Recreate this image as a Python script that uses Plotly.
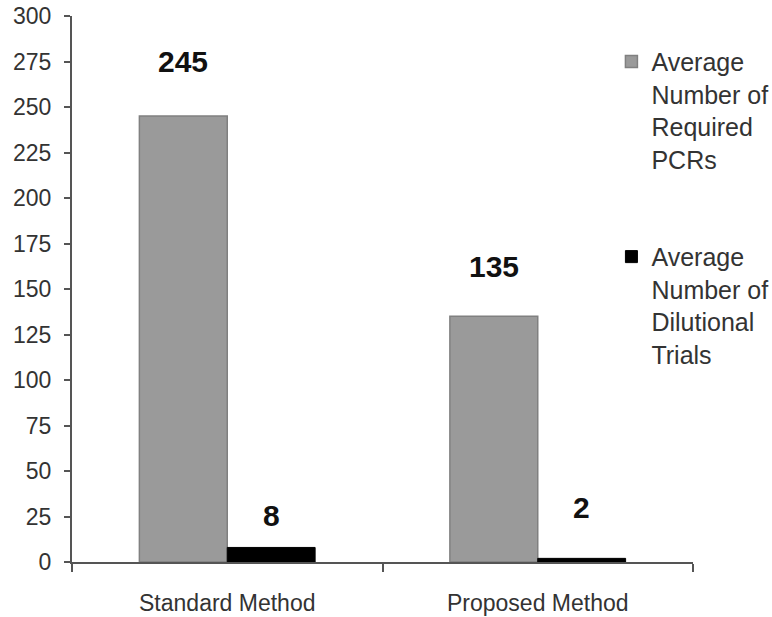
import plotly.graph_objects as go

categories = ["Standard Method", "Proposed Method"]
pcr_values = [245, 135]
dilution_values = [8, 2]
series_names = ["Average<br>Number of<br>Required<br>PCRs", "Average<br>Number of<br>Dilutional<br>Trials"]
y_ticks = list(range(0, 301, 25))
# vertical offset (px) of each value label above its bar
pcr_label_shift = [36, 31]
dil_label_shift = [13, 32]

FONT = "Liberation Sans, Arial, sans-serif"
BAR_PX = 88

fig = go.Figure()
fig.add_trace(go.Bar(x=categories, y=pcr_values, name=series_names[0], legendgroup="a",
                     marker=dict(color="#9a9a9a", line=dict(color="#808080", width=1.5))))
fig.add_trace(go.Bar(x=categories, y=dilution_values, name=series_names[1], legendgroup="b",
                     marker=dict(color="#000000", line=dict(color="#000000", width=1))))

for i, c in enumerate(categories):
    for off, vals, shifts in ((-0.5, pcr_values, pcr_label_shift), (0.5, dilution_values, dil_label_shift)):
        fig.add_annotation(x=c, y=vals[i], xshift=off * BAR_PX, yshift=shifts[i], yanchor="bottom",
                           text=f"<b>{vals[i]}</b>", showarrow=False,
                           font=dict(family=FONT, size=30, color="#111"))

fig.update_layout(
    width=772, height=617,
    margin=dict(l=72, r=79, t=16, b=55, autoexpand=False),
    paper_bgcolor="white", plot_bgcolor="white",
    barmode="group", bargap=0.434, bargroupgap=0,
    font=dict(family=FONT, size=23, color="#333"),
    showlegend=True,
    legend=dict(xref="container", yref="container", x=0.792, xanchor="left", y=0.937, yanchor="top",
                font=dict(family=FONT, size=25, color="#333"),
                tracegroupgap=62, traceorder="grouped", valign="top",
                itemwidth=30, bgcolor="rgba(0,0,0,0)", maxheight=600),
)
fig.update_xaxes(showline=True, linecolor="#555", linewidth=2, ticks="outside",
                 tickson="boundaries", ticklen=8, tickcolor="#555", tickwidth=2,
                 showgrid=False, automargin=False, ticklabelstandoff=19,
                 tickfont=dict(size=23, color="#333"))
fig.update_yaxes(range=[0, 300], tickvals=y_ticks, showline=True, linecolor="#555", linewidth=2,
                 ticks="outside", ticklen=6, tickcolor="#555", tickwidth=2,
                 showgrid=False, zeroline=False, automargin=False, ticklabelstandoff=8,
                 tickfont=dict(size=23, color="#333"))

fig.write_html("out.html")
